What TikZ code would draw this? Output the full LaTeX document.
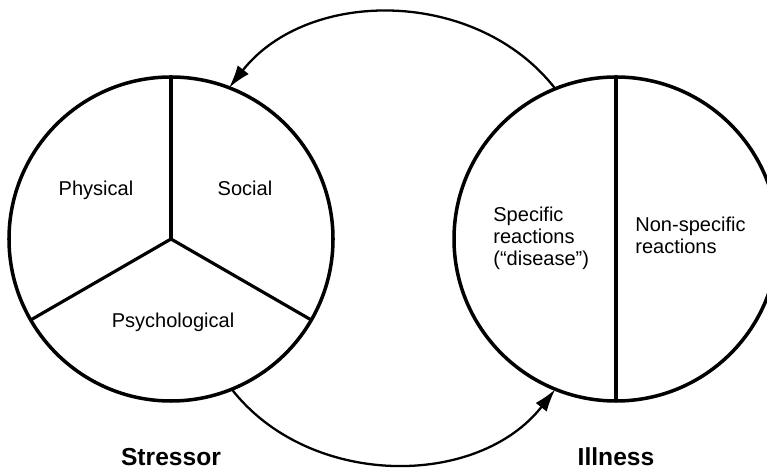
\documentclass[tikz,border=0pt]{standalone}
\usepackage{fontspec}
\setmainfont{Liberation Sans}
\usetikzlibrary{arrows.meta}
\begin{document}
\begin{tikzpicture}[
	disc/.style={circle,draw=black,line width=2pt,minimum size=6.48cm,inner sep=0pt,outer sep=0pt},
	divide/.style={line width=1.8pt},
	link/.style={line width=1.3pt,-{Latex[length=13pt,width=8pt]}},
	txt/.style={font=\fontsize{11.4}{12.8}\selectfont,inner sep=0pt},
	title/.style={font=\fontsize{14}{16}\selectfont\bfseries,inner sep=0pt}]
	\useasboundingbox (0,0) rectangle (15.34,9.36);
		% the two circles
		\node[disc] (stressor) at (3.42,4.58) {};
		\node[disc] (illness) at (12.32,4.58) {};
		\draw[divide] (stressor.center) -- (stressor.90);
		\draw[divide] (stressor.center) -- (stressor.210);
		\draw[divide] (stressor.center) -- (stressor.330);
		\draw[divide] (illness.90) -- (illness.270);
		% labels
		\node[txt,anchor=base] (physical) at (1.92,5.44) {Physical};
		\node[txt,anchor=base] (social) at (4.90,5.44) {Social};
		\node[txt,anchor=base] (psych) at (3.46,2.80) {Psychological};
		\node[txt,anchor=base west,align=left] (specific) at (9.86,4.04) {Specific\\reactions\\(``disease'')};
		\node[txt,anchor=base west,align=left] (nonspecific) at (12.70,4.28) {Non-specific\\reactions};
		\node[title,anchor=base] (stressorlabel) at (3.42,0.05) {Stressor};
		\node[title,anchor=base] (illnesslabel) at (12.32,0.05) {Illness};
		% feedback arcs
		\draw[link] (illness.112) to[bend right=52] (stressor.69);
		\draw[link] (stressor.-68) to[bend right=52] (illness.248);
\end{tikzpicture}
\end{document}
